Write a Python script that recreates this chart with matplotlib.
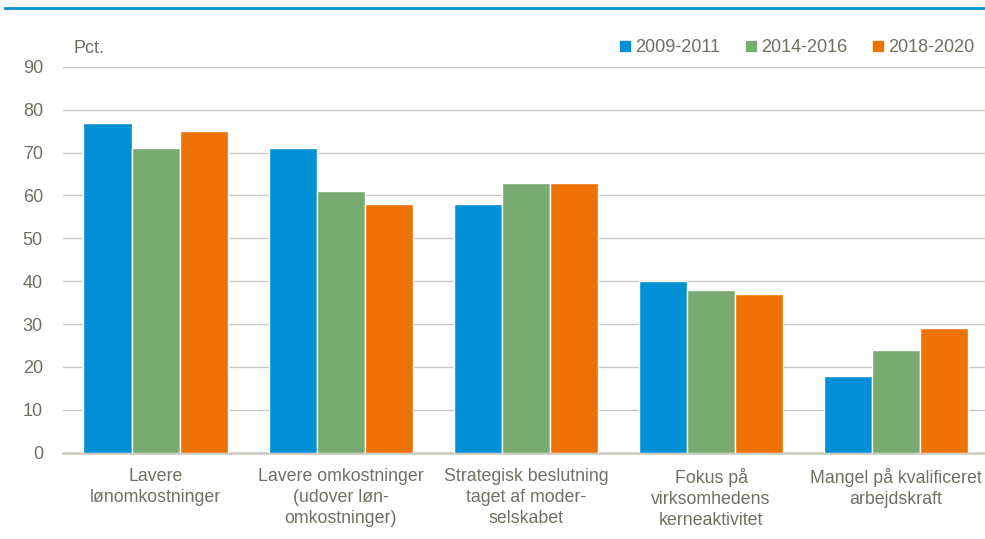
import numpy as np
import matplotlib.pyplot as plt
from matplotlib.lines import Line2D

plt.rcParams['font.family'] = ['Liberation Sans', 'DejaVu Sans']

categories = [
    "Lavere\nlønomkostninger",
    "Lavere omkostninger\n(udover løn-\nomkostninger)",
    "Strategisk beslutning\ntaget af moder-\nselskabet",
    "Fokus på\nvirksomhedens\nkerneaktivitet",
    "Mangel på kvalificeret\narbejdskraft",
]
periods = ["2009-2011", "2014-2016", "2018-2020"]
v2009 = [77, 71, 58, 40, 18]
v2014 = [71, 61, 63, 38, 24]
v2018 = [75, 58, 63, 37, 29]
colors = ["#0090D5", "#78AB70", "#EE7203"]
text_col = "#707062"
grid_col = "#C9C9BF"

fig = plt.figure(figsize=(9.85, 5.39), dpi=100)
ax = fig.add_axes([0.064, 0.16, 0.936, 0.716])

x = np.arange(len(categories))
w = 0.26
for i, (vals, c) in enumerate(zip([v2009, v2014, v2018], colors)):
    ax.bar(x + (i - 1) * w, vals, width=w, color=c, edgecolor="white",
           linewidth=1.0, zorder=3)

ax.set_xlim(-0.5, 4.48)
ax.set_ylim(0, 90)
ax.set_yticks(range(0, 91, 10))
ax.set_xticks(x)
ax.set_xticklabels(categories, fontsize=12.8, color=text_col, linespacing=1.3)
ax.tick_params(axis="x", length=0, pad=11)
ax.tick_params(axis="y", length=0, pad=14.5, labelsize=13, labelcolor=text_col)
ax.grid(axis="y", color=grid_col, linewidth=1.0, zorder=0)
for s in ["top", "right", "left"]:
    ax.spines[s].set_visible(False)
ax.spines["bottom"].set_color(grid_col)
ax.spines["bottom"].set_linewidth(1.8)

ax.text(0.011, 1.025, "Pct.", transform=ax.transAxes, fontsize=13,
        color=text_col, va="bottom", ha="left")

handles = [Line2D([], [], marker="s", linestyle="none", markersize=6.5,
                  markerfacecolor=c, markeredgecolor=c) for c in colors]
leg = ax.legend(handles, periods, loc="lower right", bbox_to_anchor=(1.0, 1.0),
                ncol=3, frameon=False, fontsize=13, handletextpad=0.05,
                columnspacing=1.2, borderaxespad=0.2, handlelength=1.0)
for t in leg.get_texts():
    t.set_color(text_col)

# blue rule at the top of the figure
fig.add_artist(Line2D([0.005, 1.0], [0.985, 0.985], color="#0090D5",
                      linewidth=2.0, transform=fig.transFigure))

fig.savefig("out.png", dpi=100)
